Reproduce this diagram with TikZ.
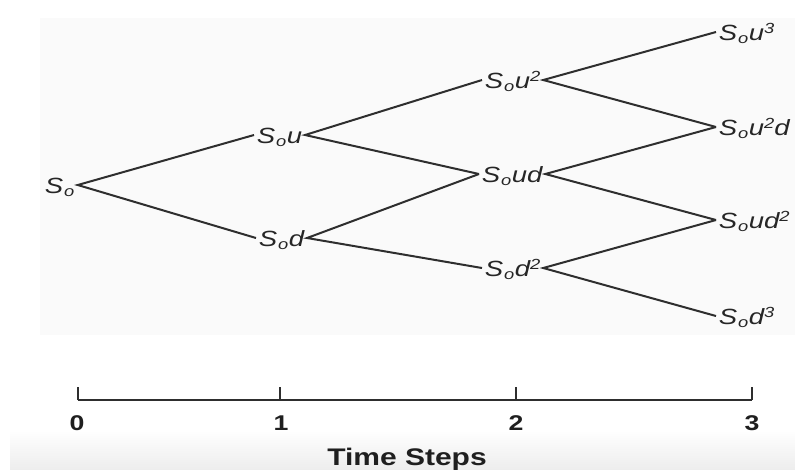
\documentclass[tikz,border=0pt]{standalone}
\usepackage{fontspec}
\setmainfont{Liberation Sans}[FakeStretch=1.25]
\begin{document}
\newcommand\Sb{S\kern0.6pt\lower2.8pt\hbox{\fontsize{11}{11}\selectfont o}\kern0.4pt}
\newcommand\Sp[1]{\raise5.2pt\hbox{\fontsize{11}{11}\selectfont #1}}
\begin{tikzpicture}[x=0.75pt,y=-0.75pt,
  lab/.style={anchor=west,inner sep=2pt,text height=12pt,text depth=0pt,
    font=\fontsize{16.5}{19}\selectfont\itshape,text=black!85},
  edge/.style={draw=black!82,line width=1.5pt},
  num/.style={font=\fontsize{16}{18}\selectfont\bfseries,text=black!88,inner sep=0pt},
  axis/.style={draw=black!82,line width=1.8pt}]
\useasboundingbox (0,0) rectangle (795,469);
\fill[white] (0,0) rectangle (795,469);
\fill[black!2] (40,18) rectangle (795,335);
\shade[top color=white,bottom color=black!7] (10,430) rectangle (795,469);
% tree nodes
\node[lab] (s0)   at (42,185)  {\Sb};
\node[lab] (su)   at (254,135) {\Sb u};
\node[lab] (sd)   at (256,238) {\Sb d};
\node[lab] (suu)  at (482,80)  {\Sb u\Sp2};
\node[lab] (sud)  at (479,174) {\Sb ud};
\node[lab] (sdd)  at (482,268) {\Sb d\Sp2};
\node[lab] (suuu) at (716,32)  {\Sb u\Sp3};
\node[lab] (suud) at (716,127) {\Sb u\Sp2d};
\node[lab] (sudd) at (716,220) {\Sb ud\Sp2};
\node[lab] (sddd) at (716,316) {\Sb d\Sp3};
% edges
\draw[edge] (su.west) -- (s0.east) -- (sd.west);
\draw[edge] (suu.west) -- (su.east) -- (sud.west);
\draw[edge] (sud.west) -- (sd.east) -- (sdd.west);
\draw[edge] (suuu.west) -- (suu.east) -- (suud.west);
\draw[edge] (suud.west) -- (sud.east) -- (sudd.west);
\draw[edge] (sudd.west) -- (sdd.east) -- (sddd.west);
% time axis
\coordinate (t0) at (78,400);
\coordinate (t1) at (280,400);
\coordinate (t2) at (516,400);
\coordinate (t3) at (752,400);
\draw[axis] (t0) -- (t3);
\foreach \t in {t0,t1,t2,t3} \draw[axis] (\t) -- ++(0,-13);
\node[num] (n0) at (77,423) {0};
\node[num] (n1) at (281,423) {1};
\node[num] (n2) at (516,423) {2};
\node[num] (n3) at (752,423) {3};
\node[font=\fontsize{18}{20}\selectfont\bfseries,text=black!88,inner sep=0pt] (ts) at (407,459) {Time Steps};
\end{tikzpicture}
\end{document}
